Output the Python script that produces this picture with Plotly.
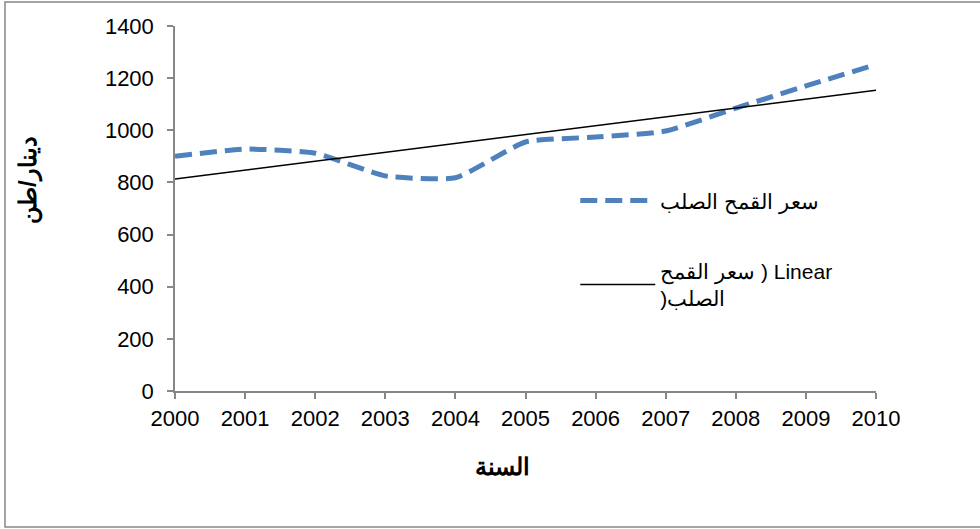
import numpy as np
import plotly.graph_objects as go

years = [2000, 2001, 2002, 2003, 2004, 2005, 2006, 2007, 2008, 2009, 2010]
price = [900, 928, 912, 825, 818, 955, 974, 997, 1085, 1170, 1252]
y_ticks = [0, 200, 400, 600, 800, 1000, 1200, 1400]

LRM = "\u200E"
series_name = "سعر القمح الصلب"
trend_name = LRM + "سعر القمح ) Linear<br>" + LRM + ")الصلب"
x_title = "السنة"
y_title = "دينار/طن"

coef = np.polyfit(years, price, 1)
trend = np.polyval(coef, years)

font_family = "Liberation Sans, Arial, sans-serif"

fig = go.Figure()
fig.add_trace(go.Scatter(
    x=years, y=price, mode="lines", name=series_name, legendgroup="a",
    line=dict(color="#4F81BD", width=5, dash="17px,8px", shape="spline", smoothing=0.5),
))
fig.add_trace(go.Scatter(
    x=years, y=trend, mode="lines", name=trend_name, legendgroup="b",
    line=dict(color="#000000", width=1.5),
))

ann = [
    dict(xref="paper", yref="paper", x=-0.2097, y=0.578, text="<b>" + y_title + "</b>",
         textangle=-90, showarrow=False, xanchor="center", yanchor="middle",
         font=dict(size=24)),
    dict(xref="paper", yref="paper", x=0.4665, y=-0.208, text="<b>" + x_title + "</b>",
         showarrow=False, xanchor="center", yanchor="middle", font=dict(size=24)),
]

fig.update_layout(
    width=980, height=529,
    margin=dict(l=175, r=104, t=26, b=138),
    paper_bgcolor="white", plot_bgcolor="white",
    font=dict(family=font_family, size=22, color="#000000"),
    showlegend=True,
    legend=dict(x=0.571, y=0.577, xanchor="left", yanchor="top",
                font=dict(size=21, family=font_family),
                tracegroupgap=40, itemwidth=75, bgcolor="rgba(0,0,0,0)"),
    xaxis=dict(
        range=[2000, 2010], tickmode="array", tickvals=years,
        ticktext=[str(y) for y in years],
        showgrid=False, zeroline=False, showline=True,
        linecolor="#878787", linewidth=1.5,
        ticks="outside", ticklen=6, tickcolor="#878787", tickwidth=1.5,
        ticklabelstandoff=1,
    ),
    yaxis=dict(
        range=[0, 1400], tickmode="array", tickvals=y_ticks,
        showgrid=False, zeroline=False, showline=True,
        linecolor="#878787", linewidth=1.5,
        ticks="outside", ticklen=6, tickcolor="#878787", tickwidth=1.5,
        ticklabelstandoff=9,
    ),
    annotations=ann,
    shapes=[dict(type="rect", xref="paper", yref="paper",
                 x0=-0.2425, x1=1.3, y0=-0.3726, y1=1.0658,
                 line=dict(color="#878787", width=1.5), fillcolor="rgba(0,0,0,0)",
                 layer="below")],
)

fig.write_html("out.html", config={"displayModeBar": False},
               post_script="document.body.style.margin='0px';")
